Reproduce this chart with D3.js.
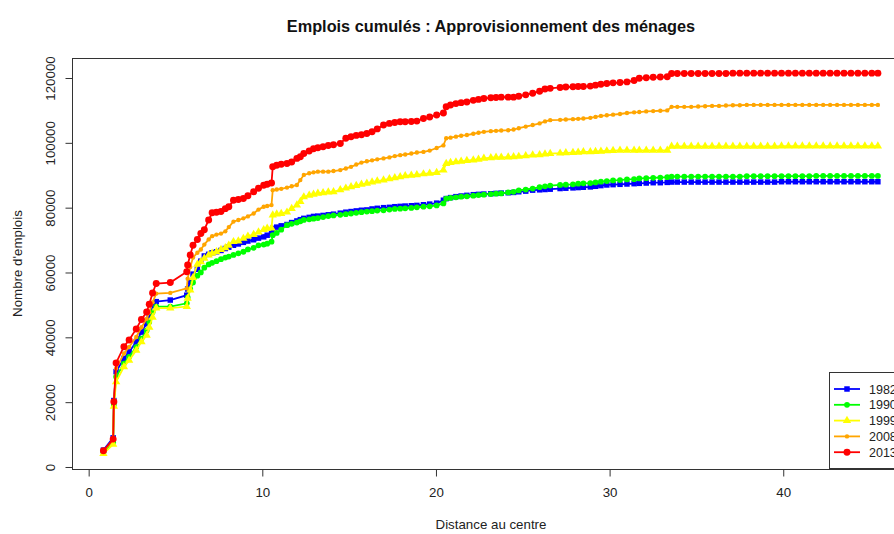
<!DOCTYPE html>
<html><head><meta charset="utf-8">
<script src="https://cdn.jsdelivr.net/npm/d3@7"></script>
<style>
body{margin:0;background:#fff}
svg{display:block}
text{font-family:"Liberation Sans",Arial,Helvetica,sans-serif}
</style>
</head><body>
<svg id="chart" width="894" height="534"></svg>
<script>
// ---------- data ----------
const title = "Emplois cumulés : Approvisionnement des ménages";
const xLabel = "Distance au centre";
const yLabel = "Nombre d'emplois";
const xTicks = [0, 10, 20, 30, 40];
const yTicks = [0, 20000, 40000, 60000, 80000, 100000, 120000];
const seriesNames = ["1982", "1990", "1999", "2008", "2013"];

const distances = [
 0.85, 1.41, 1.45, 1.58, 2.03, 2.33, 2.74, 3.04, 3.34, 3.49,
 3.68, 3.89, 4.70, 5.65, 5.70, 5.85, 6.01, 6.26, 6.46, 6.66,
 6.91, 7.11, 7.36, 7.62, 7.87, 8.07, 8.34, 8.62, 8.91, 9.17,
 9.50, 9.78, 10.08, 10.28, 10.53, 10.60, 10.83, 11.09, 11.42, 11.69,
 11.99, 12.19, 12.39, 12.70, 12.95, 13.20, 13.50, 13.80, 14.10, 14.49,
 14.81, 15.11, 15.41, 15.71, 16.02, 16.32, 16.62, 16.98, 17.32, 17.63,
 17.94, 18.23, 18.58, 18.90, 19.28, 19.64, 20.04, 20.43, 20.59, 20.84,
 21.15, 21.45, 21.78, 22.15, 22.45, 22.76, 23.16, 23.46, 23.76, 24.16,
 24.47, 24.77, 25.17, 25.57, 25.97, 26.28, 26.58, 27.15, 27.48, 27.89,
 28.19, 28.49, 28.89, 29.19, 29.50, 29.84, 30.20, 30.60, 31.00, 31.41,
 31.71, 32.11, 32.51, 32.92, 33.32, 33.57,
 33.90, 34.30, 34.70, 35.10, 35.50, 35.90, 36.30, 36.70, 37.10, 37.50,
 37.90, 38.30, 38.70, 39.10, 39.50, 39.90, 40.30, 40.70, 41.10, 41.50,
 41.90, 42.30, 42.70, 43.10, 43.50, 43.90, 44.30, 44.70, 45.10, 45.45
];

const jobs1982 = [
 5200, 9000, 20500, 29400, 33500, 35500, 38600, 41600, 44200, 46700,
 49800, 51000, 51500, 53000, 54900, 57100, 59500, 61000, 63500, 65100,
 65600, 66100, 66400, 66800, 67400, 67800, 68400, 68800, 69300, 69700,
 70100, 70600, 71000, 71500, 72100, 73600, 74000, 74400, 74800, 75400,
 75900, 76300, 76700, 77000, 77300, 77400, 77600, 77800, 78000, 78300,
 78600, 78800, 79000, 79200, 79300, 79600, 79800, 80000, 80100, 80300,
 80400, 80500, 80600, 80700, 80900, 81100, 81400, 82300, 82800, 83100,
 83400, 83600, 83800, 84000, 84100, 84200, 84300, 84400, 84500, 84600,
 84700, 84900, 85100, 85400, 85500, 85600, 85700, 85900, 86000, 86100,
 86200, 86300, 86400, 86600, 86800, 87000, 87100, 87200, 87300, 87400,
 87500, 87600, 87700, 87700, 87800, 87900,
 87900, 87900, 87900, 87900, 87900, 87900, 87900, 87900, 87900, 87900,
 87900, 87900, 87900, 87900, 87900, 88000, 88000, 88000, 88000, 88000,
 88000, 88000, 88000, 88000, 88000, 88000, 88000, 88000, 88000, 88000
];

const jobs1990 = [
 4500, 7600, 19200, 27800, 31900, 34000, 37000, 39600, 42100, 44700,
 47700, 49500, 49500, 50500, 52300, 54900, 56900, 59000, 60000, 61500,
 62500, 63000, 63500, 64100, 64600, 64900, 65400, 65900, 66400, 67100,
 67600, 68400, 68600, 68900, 69500, 71500, 72200, 73200, 74600, 75000,
 75400, 75800, 76200, 76400, 76600, 76800, 77100, 77400, 77600, 77800,
 78000, 78200, 78400, 78600, 78800, 78900, 79100, 79200, 79400, 79600,
 79700, 79800, 79900, 80100, 80300, 80400, 80700, 81300, 82800, 83000,
 83200, 83400, 83500, 83700, 83900, 84000, 84200, 84300, 84400, 84700,
 84900, 85300, 85600, 85900, 86300, 86600, 86800, 87000, 87100, 87200,
 87400, 87500, 87600, 87800, 88000, 88200, 88400, 88500, 88700, 88800,
 89000, 89100, 89200, 89300, 89400, 89600,
 89600, 89600, 89600, 89600, 89600, 89600, 89600, 89600, 89600, 89600,
 89700, 89700, 89700, 89700, 89700, 89700, 89700, 89700, 89700, 89700,
 89800, 89800, 89800, 89800, 89800, 89800, 89800, 89800, 89800, 89800
];

const jobs1999 = [
 4100, 7000, 18700, 26300, 30900, 32900, 36000, 38600, 40600, 43100,
 46200, 49000, 49000, 49500, 52000, 54600, 58400, 62500, 63300, 64400,
 65400, 65900, 66400, 67100, 67600, 68400, 69500, 69700, 70500, 71200,
 71700, 72500, 73200, 73600, 73700, 77700, 78000, 78200, 78600, 79700,
 80800, 81900, 83300, 83800, 84100, 84400, 84600, 84800, 84900, 85500,
 86000, 86400, 86800, 87200, 87500, 87900, 88200, 88500, 88900, 89200,
 89500, 89800, 90000, 90100, 90400, 90600, 90800, 91600, 93600, 93900,
 94100, 94300, 94500, 94700, 94900, 95200, 95400, 95500, 95500, 95600,
 95700, 95800, 96000, 96200, 96300, 96500, 96700, 96800, 96900, 97000,
 97100, 97200, 97200, 97300, 97400, 97500, 97600, 97700, 97700, 97700,
 97700, 97700, 97700, 97700, 97700, 98900,
 98900, 98900, 98900, 98900, 98900, 98900, 98900, 98900, 98900, 98900,
 98900, 98900, 98900, 98900, 98900, 99000, 99000, 99000, 99000, 99000,
 99000, 99000, 99000, 99000, 99000, 99000, 99000, 99000, 99000, 99000
];

const jobs2008 = [
 4900, 8300, 19700, 30400, 35000, 37000, 40100, 43100, 45700, 47700,
 50800, 53500, 53700, 55100, 58100, 61700, 64600, 66100, 67100, 68600,
 70200, 71200, 71700, 72000, 72700, 74000, 75700, 76200, 76700, 77300,
 78200, 79400, 80300, 80500, 80800, 85400, 85600, 85800, 86200, 86600,
 87000, 88500, 90100, 90600, 90900, 91100, 91100, 91100, 91300, 91600,
 92100, 92600, 93300, 93900, 94300, 94600, 94900, 95200, 95500, 95900,
 96200, 96400, 96700, 97000, 97200, 97600, 98400, 99200, 101400, 101600,
 101900, 102200, 102400, 102800, 103100, 103400, 103600, 103700, 103800, 103900,
 104100, 104500, 105000, 105500, 106000, 106600, 107000, 107100, 107200, 107300,
 107400, 107500, 107700, 108000, 108300, 108500, 108700, 108900, 109200, 109400,
 109500, 109700, 109800, 109900, 110000, 111100,
 111100, 111100, 111100, 111200, 111300, 111400, 111400, 111500, 111600, 111600,
 111700, 111700, 111700, 111700, 111700, 111700, 111700, 111700, 111700, 111700,
 111700, 111700, 111700, 111700, 111700, 111700, 111700, 111700, 111700, 111700
];

const jobs2013 = [
 5000, 8600, 20100, 32100, 37100, 39200, 42600, 45500, 47800, 50200,
 53700, 56600, 56900, 60200, 62300, 65400, 68400, 70200, 72000, 73200,
 76200, 78400, 78600, 78800, 79700, 80300, 82300, 82500, 82800, 83700,
 84900, 86000, 86900, 87200, 87600, 92600, 93100, 93400, 93600, 94100,
 95200, 95700, 96700, 97500, 98200, 98500, 98800, 99200, 99400, 99800,
 101400, 101900, 102300, 102500, 102900, 103400, 104300, 105500, 106000, 106300,
 106500, 106500, 106600, 106700, 107500, 108000, 108600, 109200, 111100, 111700,
 112100, 112400, 112600, 113100, 113400, 113700, 113900, 114000, 114100, 114100,
 114100, 114400, 114800, 115300, 115900, 116600, 116800, 117100, 117200, 117300,
 117400, 117400, 117500, 117800, 118100, 118300, 118500, 118600, 118800, 119200,
 119900, 120100, 120200, 120300, 120400, 121400,
 121400, 121400, 121400, 121400, 121400, 121400, 121400, 121400, 121500, 121500,
 121500, 121500, 121500, 121500, 121500, 121500, 121500, 121500, 121500, 121500,
 121500, 121500, 121500, 121500, 121500, 121500, 121500, 121500, 121500, 121500
];

const seriesValues = [jobs1982, jobs1990, jobs1999, jobs2008, jobs2013];

// ---------- styles ----------
const colors = ["#0000FF", "#00FF00", "#FFFF00", "#FFA500", "#FF0000"];
const symbolTypes = [d3.symbolSquare, d3.symbolCircle, d3.symbolTriangle, d3.symbolCircle, d3.symbolCircle];
const symbolSizes = [30, 26, 30, 15, 38];

const plot = {left: 72, right: 910, top: 58, bottom: 469};
const axisFont = 13.3;

const svg = d3.select("#chart");

const x = d3.scaleLinear().domain([-0.96, 47.3]).range([plot.left, plot.right]);
const y = d3.scaleLinear().domain([-620, 126170]).range([plot.bottom, plot.top]);

// title
svg.append("text")
  .attr("x", (plot.left + plot.right) / 2).attr("y", 32)
  .attr("text-anchor", "middle")
  .attr("font-size", 16.3).attr("font-weight", "bold").attr("fill", "#111")
  .text(title);

// series
const g = svg.append("g");
seriesValues.forEach((vals, s) => {
  const pts = distances.map((d, i) => [x(d), y(vals[i])]);
  g.append("path")
    .attr("d", d3.line()(pts))
    .attr("fill", "none")
    .attr("stroke", colors[s])
    .attr("stroke-width", 1.8);
  const sym = d3.symbol().type(symbolTypes[s]).size(symbolSizes[s]);
  g.selectAll(null).data(pts).join("path")
    .attr("d", sym)
    .attr("transform", p => `translate(${p[0]},${p[1]})`)
    .attr("fill", colors[s]);
});

// box
svg.append("rect")
  .attr("x", plot.left + 0.5).attr("y", plot.top + 0.5)
  .attr("width", plot.right - plot.left).attr("height", plot.bottom - plot.top)
  .attr("fill", "none").attr("stroke", "#333").attr("stroke-width", 1);

// x axis
const xAxis = svg.append("g")
  .attr("transform", `translate(0,${plot.bottom + 0.5})`)
  .call(d3.axisBottom(x).tickValues(xTicks).tickSize(7).tickPadding(11).tickFormat(d3.format("d")));
xAxis.select(".domain").remove();
xAxis.selectAll("line").attr("stroke", "#333");
xAxis.selectAll("text").attr("font-size", axisFont).attr("fill", "#222").attr("font-family", null);

// y axis
const yAxis = svg.append("g")
  .attr("transform", `translate(${plot.left + 0.5},0)`)
  .call(d3.axisLeft(y).tickValues(yTicks).tickSize(7).tickFormat(d3.format("d")));
yAxis.select(".domain").remove();
yAxis.selectAll("line").attr("stroke", "#333");
yAxis.selectAll("text")
  .attr("x", null).attr("dy", null)
  .attr("text-anchor", "middle")
  .attr("transform", "translate(-18,0) rotate(-90)")
  .attr("font-size", axisFont).attr("fill", "#222").attr("font-family", null);

// axis titles
svg.append("text")
  .attr("x", (plot.left + plot.right) / 2).attr("y", 529)
  .attr("text-anchor", "middle").attr("font-size", axisFont).attr("fill", "#222")
  .text(xLabel);
svg.append("text")
  .attr("transform", `translate(22,${(plot.top + plot.bottom) / 2}) rotate(-90)`)
  .attr("text-anchor", "middle").attr("font-size", axisFont).attr("fill", "#222")
  .text(yLabel);

// legend
const leg = svg.append("g");
leg.append("rect")
  .attr("x", 829.5).attr("y", 372.5).attr("width", 80).attr("height", 96)
  .attr("fill", "#fff").attr("stroke", "#333");
seriesNames.forEach((name, s) => {
  const ly = 389 + s * 15.8;
  leg.append("line").attr("x1", 834).attr("x2", 860).attr("y1", ly).attr("y2", ly)
    .attr("stroke", colors[s]).attr("stroke-width", 1.8);
  leg.append("path")
    .attr("d", d3.symbol().type(symbolTypes[s]).size(symbolSizes[s])())
    .attr("transform", `translate(847,${ly})`).attr("fill", colors[s]);
  leg.append("text").attr("x", 869).attr("y", ly + 4.5)
    .attr("font-size", 12.5).attr("fill", "#222").text(name);
});
</script>
</body></html>
